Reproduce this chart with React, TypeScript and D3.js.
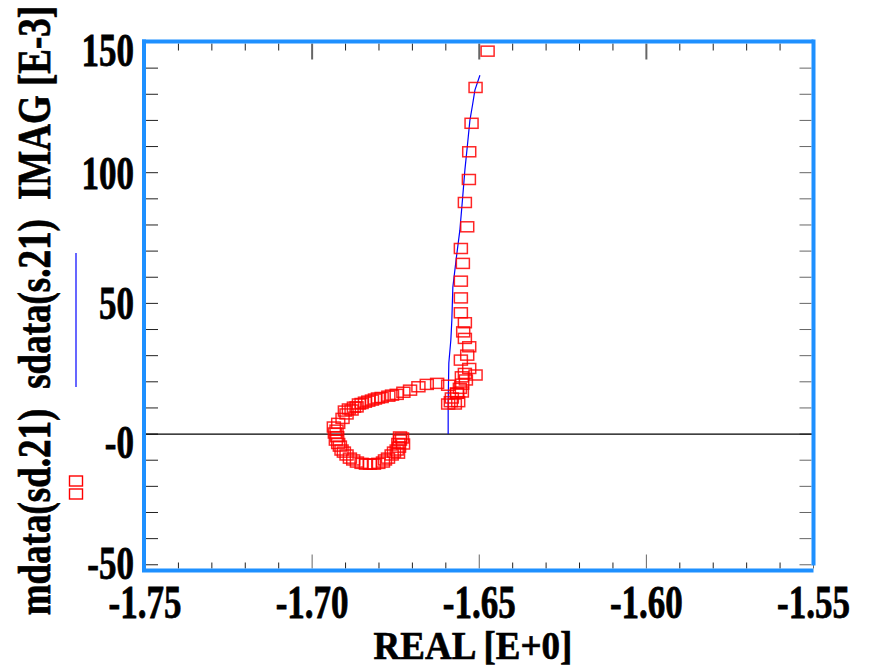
import React from 'react'
import * as d3 from 'd3'

// measured (mdata) real / imag[E-3]
const mdataRe = [
  -1.6475, -1.6511, -1.6523, -1.653, -1.6531, -1.6543, -1.6536, -1.6555, -1.6549, -1.6555,
  -1.6555, -1.6555, -1.6543, -1.6548, -1.6543, -1.653, -1.6536, -1.6555, -1.653, -1.6543,
  -1.6511, -1.6551, -1.6558, -1.6566, -1.6563, -1.6585, -1.6593, -1.6567, -1.6552,
  -1.6582, -1.6573, -1.6593, -1.6552, -1.654,
  -1.6626, -1.6657, -1.6682, -1.6707, -1.6727, -1.6747, -1.6772, -1.6792, -1.6812, -1.6832,
  -1.6852, -1.6867, -1.6882, -1.6897, -1.6909, -1.6922, -1.6927, -1.6925, -1.6922, -1.6912,
  -1.6897, -1.6877, -1.6852, -1.6827, -1.6802, -1.6782, -1.6762, -1.6747, -1.6742, -1.6737,
  -1.6935, -1.6932, -1.6929, -1.6917, -1.6905, -1.6887, -1.6866, -1.6839, -1.6815, -1.6788,
  -1.6773, -1.6755, -1.674, -1.6737, -1.6743, -1.6728, -1.6731,
  -1.6902, -1.689, -1.6875, -1.686, -1.6842, -1.6821, -1.6803, -1.6761,
]
const mdataIm = [
  146.5, 132.6, 118.9, 108.0, 97.4, 88.6, 79.3, 71.0, 65.3, 58.5,
  52.1, 46.4, 42.6, 39.1, 36.6, 33.4, 30.2, 28.3, 25.1, 23.2,
  22.6, 19.1, 17.5, 15.6, 12.4, 12.4, 18.7, 15.7, 21.9,
  13.8, 11.5, 11.5, 16.1, 20.7,
  19.4, 19.0, 18.1, 16.8, 16.0, 15.2, 14.5, 14.0, 13.4, 12.6,
  11.7, 10.4, 9.2, 7.7, 6.0, 4.1, 1.5, -1.0, -3.6, -6.1,
  -8.0, -9.9, -11.2, -11.5, -11.2, -9.9, -8.0, -6.1, -3.6, -2.3,
  2.7, 0.4, -2.3, -4.6, -6.9, -9.2, -10.7, -11.5, -11.5, -10.7,
  -9.2, -6.9, -5.0, -1.1, -7.3, -3.8, -1.5,
  8.8, 9.6, 10.3, 11.5, 12.2, 13.0, 13.8, 14.9,
]

// simulated (sdata) real / imag[E-3]
const sdataRe = [-1.6593, -1.6593, -1.6591, -1.6585, -1.6582, -1.6579, -1.6568, -1.6558, -1.655, -1.6543, -1.6535, -1.6528, -1.652, -1.6513, -1.6498]
const sdataIm = [0, 12, 27.2, 36, 43.6, 56.2, 68, 78, 90, 101, 111, 120, 126, 131.6, 137.3]

const xTicks = [-1.75, -1.7, -1.65, -1.6, -1.55]
const xTickLabels = ['-1.75', '-1.70', '-1.65', '-1.60', '-1.55']
const yTicks = [150, 100, 50, 0, -50]
const yTickLabels = ['150', '100', '50', '-0', '-50']

const W = 871, H = 666
const L = 144, R = 813.5, T = 41.5, B = 570.5
const blue = '#1e90ff'
const font = '"Liberation Serif", "Times New Roman", serif'

export default function App() {
  const x = d3.scaleLinear().domain([-1.75, -1.55]).range([145, 813.5])
  const y = d3.scaleLinear().domain([-52, 150]).range([570, 42])

  const minorX = d3.range(0, 21).map(i => -1.75 + i * 0.01)
  const minorY = d3.range(0, 21).map(i => -50 + i * 10)

  const line = d3.line<number>().x(i => x(sdataRe[i])).y(i => y(sdataIm[i]))
  const sw = 13, sh = 10

  return (
    <svg width={W} height={H} style={{ position: 'absolute', left: 0, top: 0, background: '#fff' }}>
      {/* ticks */}
      <g stroke="#222" strokeWidth={1}>
        {minorX.map((v, i) => {
          const major = i % 5 === 0
          return (
            <g key={'xt' + i}>
              <line x1={x(v)} x2={x(v)} y1={B - 2} y2={B - (major ? 16 : 8)} stroke={major ? '#666' : '#222'} />
              <line x1={x(v)} x2={x(v)} y1={T + 2} y2={T + (major ? 18 : 9)} stroke={major ? '#666' : '#222'} strokeWidth={major ? 2 : 1} />
            </g>
          )
        })}
        {minorY.map((v, i) => (
          <g key={'yt' + i}>
            <line x1={L + 2} x2={L + 14} y1={y(v)} y2={y(v)} />
            <line x1={R - 2} x2={R - 14} y1={y(v)} y2={y(v)} stroke="#666" />
          </g>
        ))}
      </g>

      {/* zero line */}
      <line x1={L} x2={R} y1={y(0)} y2={y(0)} stroke="#000" strokeWidth={1.3} />

      {/* sdata */}
      <path d={line(d3.range(sdataRe.length)) || ''} fill="none" stroke="#0000ff" strokeWidth={1.2} />

      {/* mdata */}
      <g fill="none" stroke="#ff0000" strokeWidth={1.5} strokeOpacity={0.85}>
        {mdataRe.map((v, i) => (
          <rect key={'m' + i} x={x(v) - sw / 2} y={y(mdataIm[i]) - sh / 2} width={sw} height={sh} />
        ))}
      </g>

      {/* frame */}
      <g stroke={blue} strokeWidth={4}>
        <line x1={L - 2} x2={R} y1={T} y2={T} />
        <line x1={L} x2={L} y1={T - 2} y2={B} />
        <line x1={R} x2={R} y1={T - 2} y2={B - 5} />
        <line x1={L - 2} x2={R} y1={B} y2={B} />
      </g>

      {/* tick labels */}
      <g fontFamily={font} fontWeight="bold" fontSize={35} fill="#000" stroke="#000" strokeWidth={0.6}>
        {xTicks.map((v, i) => (
          <text key={'xl' + i} transform={`translate(${x(v)},618) scale(1,1.3)`} textAnchor="middle">{xTickLabels[i]}</text>
        ))}
        {yTicks.map((v, i) => (
          <text key={'yl' + i} transform={`translate(134,${Math.max(y(v) + 16, 66) + (v === 0 ? 8 : v === -50 ? -2 : 0)}) scale(1,1.3)`} textAnchor="end">{yTickLabels[i]}</text>
        ))}
      </g>

      {/* axis titles */}
      <g fontFamily={font} fontWeight="bold" fontSize={37} fill="#000" stroke="#000" strokeWidth={0.6}>
        <text transform={`translate(473,659) scale(1,1.1)`} textAnchor="middle">REAL [E+0]</text>
        <text transform={`translate(50,103) rotate(-90) scale(1,1.25)`} textAnchor="middle">IMAG [E-3]</text>
        <text transform={`translate(50,304) rotate(-90) scale(1,1.25)`} textAnchor="middle">sdata(s.21)</text>
        <text transform={`translate(50,512) rotate(-90) scale(1,1.25)`} textAnchor="middle">mdata(sd.21)</text>
      </g>

      {/* legend symbols */}
      <line x1={76} x2={76} y1={253} y2={387} stroke="#0000ff" strokeWidth={1.2} />
      <g fill="none" stroke="#ff0000" strokeWidth={1.4}>
        <rect x={76 - sw / 2} y={476} width={sw} height={sh} />
        <rect x={76 - sw / 2} y={489} width={sw} height={sh} />
      </g>
    </svg>
  )
}
